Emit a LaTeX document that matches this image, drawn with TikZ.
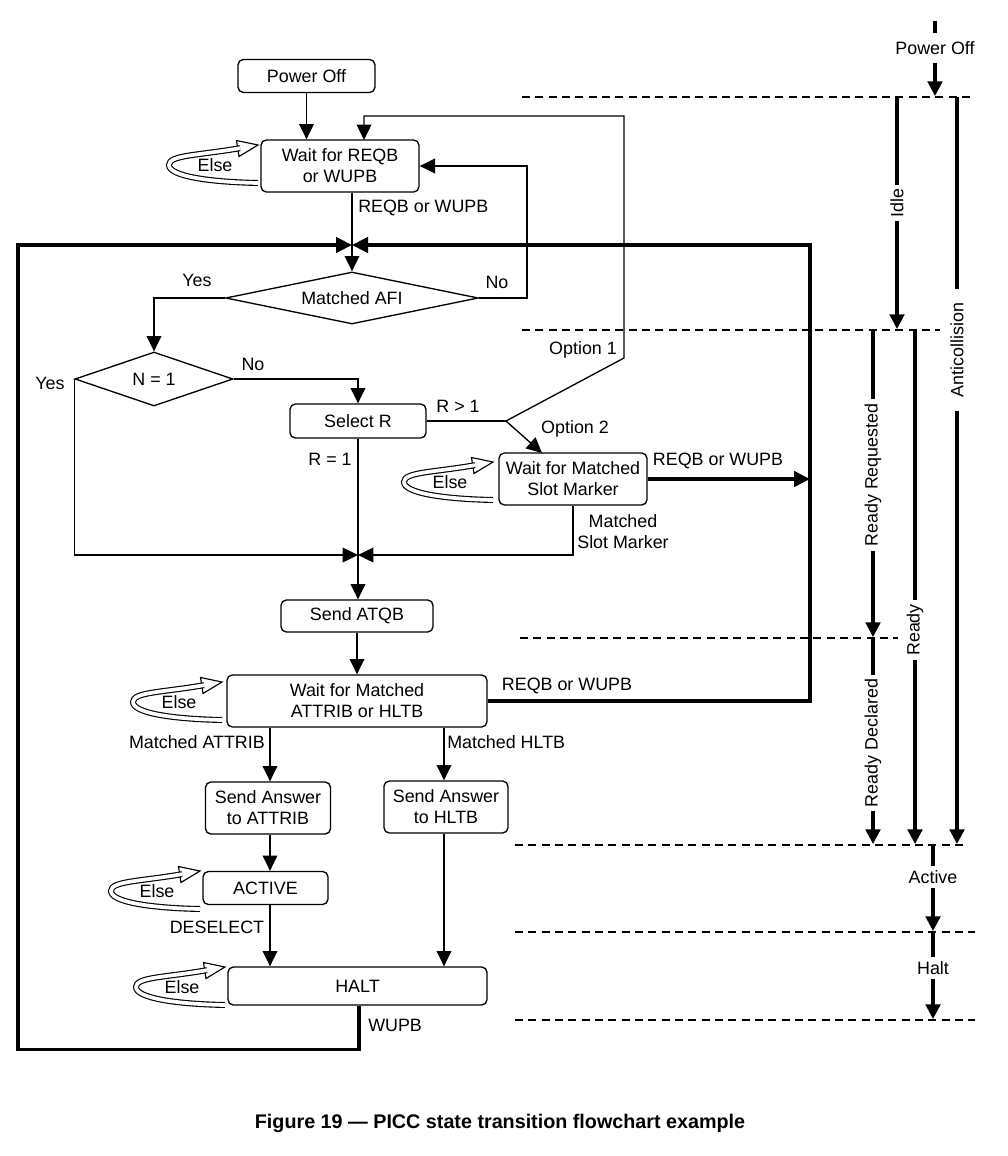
\documentclass[tikz,border=0pt]{standalone}
\usepackage{fontspec}
\setmainfont{Liberation Sans}
\usetikzlibrary{arrows.meta,shapes.geometric}
\tikzset{
  elseloop/.pic={
    \draw[line width=0.85pt, fill=white, line join=miter] (0,0) -- (-19,11.5) -- (-21.5,-4.5) -- cycle;
    \draw[double, double distance=2.8pt, line width=0.85pt] (-18,3.15) .. controls (-60,10.5) and (-89,10) .. (-89,20) .. controls (-89,31) and (-50,37) .. (0,38);
    \node[inner sep=0pt] (-t) at (-43,20) {Else};
  }
}
\begin{document}
\begin{tikzpicture}[x=0.75pt,y=-0.75pt,
  every node/.style={font=\fontsize{13.4}{15.8}\selectfont},
  box/.style={draw, rounded corners=4pt, line width=1pt, align=center, inner sep=0pt},
  dia/.style={draw, diamond, line width=1pt, inner sep=0pt},
  ln/.style={line width=1pt},
  arr/.style={ln, -{Triangle[length=11.5pt,width=11pt]}},
  thk/.style={line width=2.6pt},
  tarr/.style={thk, -{Triangle[length=12pt,width=11.5pt]}},
  rarr/.style={line width=2.3pt, -{Triangle[length=11pt,width=11pt]}},
  rthk/.style={line width=2.3pt},
  dsh/.style={line width=0.8pt, dash pattern=on 6pt off 4pt},
  rlbl/.style={fill=white, inner xsep=3pt, inner ysep=1pt, rotate=90},
  hlbl/.style={fill=white, inner xsep=1pt, inner ysep=3pt},
  lbl/.style={inner sep=0pt, align=center}
]
\useasboundingbox (0,0) rectangle (1007,1156);

% ---------- nodes ----------
\node[box, minimum width=102.75pt, minimum height=24.75pt] (poff) at (306.5,76) {Power Off};
\node[box, minimum width=118.5pt, minimum height=39pt] (wait1) at (340,166) {Wait for REQB\\or WUPB};
\node[dia, minimum width=189.5pt, minimum height=39pt, shape aspect=4.9] (afi) at (352,298) {Matched AFI};
\node[dia, minimum width=118.5pt, minimum height=40.5pt, shape aspect=2.9] (n1) at (154,379) {N = 1};
\node[box, minimum width=102pt, minimum height=25.5pt] (selr) at (358,421) {Select R};
\node[box, minimum width=111pt, minimum height=39pt] (slot) at (573,479) {Wait for Matched\\Slot Marker};
\node[box, minimum width=114pt, minimum height=24pt] (atqb) at (357,616) {Send ATQB};
\node[box, minimum width=195pt, minimum height=39pt] (attr) at (357,701) {Wait for Matched\\ATTRIB or HLTB};
\node[box, minimum width=93.75pt, minimum height=39pt] (sa1) at (268,808) {Send Answer\\to ATTRIB};
\node[box, minimum width=93pt, minimum height=39pt] (sa2) at (446,807) {Send Answer\\to HLTB};
\node[box, minimum width=93.75pt, minimum height=24.75pt] (active) at (265.5,888) {ACTIVE};
\node[box, minimum width=194.25pt, minimum height=28.5pt] (halt) at (357.5,986) {HALT};

% ---------- helper coordinates ----------
\coordinate (tj) at (352,245);
\coordinate (mj) at (358,555);
\coordinate (jr) at (506,421);
\coordinate (o1a) at (624,358);
\coordinate (o1b) at (624,116);
\coordinate (w1in) at (364,140);
\coordinate (o2) at (542,453);
\coordinate (afir) at (527,298);
\coordinate (rv) at (810,245);
\coordinate (lbot) at (18,1049.5);
\coordinate (hb) at (359,1049.5);
\coordinate (xa) at (270,0);
\coordinate (xh) at (444,0);

% ---------- connectors ----------
\draw[arr] (poff.south) -- (poff.south |- wait1.north);
\draw[arr] (jr) -- (o1a) -- (o1b) -| (w1in);
\draw[arr] (wait1.south -| tj) -- (afi.north);
\draw[arr] (afi.east) -- (afir) |- (wait1.east);
\draw[arr] (afi.west) -| (n1.north);
\draw[arr] (n1.east) -| (selr.north);
\draw[arr] (n1.west) |- (mj);
\draw[arr] (selr.south) -- (selr.south |- atqb.north);
\draw[ln] (selr.east) -- (jr);
\draw[arr] (jr) -- (o2);
\draw[arr] (slot.south) |- (mj);
\draw[tarr] (slot.east) -- (slot.east -| rv);
\draw[arr] (atqb.south) -- (atqb.south |- attr.north);
\draw[tarr] (attr.east) -| (rv) -- (tj);
\draw[tarr] (halt.south -| hb) -- (hb) -- (lbot) |- (tj);
\draw[arr] (attr.south -| xa) -- (sa1.north -| xa);
\draw[arr] (attr.south -| xh) -- (sa2.north -| xh);
\draw[arr] (sa1.south -| xa) -- (active.north -| xa);
\draw[arr] (active.south -| xa) -- (halt.north -| xa);
\draw[arr] (sa2.south -| xh) -- (halt.north -| xh);

% ---------- labels ----------
\node[lbl, anchor=west] (l1) at (358,208) {REQB or WUPB};
\node[lbl] (l2) at (197,280) {Yes};
\node[lbl] (l3) at (497,282) {No};
\node[lbl] (l4) at (50,383) {Yes};
\node[lbl] (l5) at (253,364) {No};
\node[lbl] (l6) at (583,350) {Option 1};
\node[lbl] (l7) at (458,406) {R > 1};
\node[lbl] (l8) at (575,429) {Option 2};
\node[lbl] (l9) at (330,459) {R = 1};
\node[lbl] (l10) at (718,461) {REQB or WUPB};
\node[lbl] (l11) at (623,532) {Matched\\Slot Marker};
\node[lbl] (l12) at (567,686) {REQB or WUPB};
\node[lbl, anchor=east] (l13) at (265,742) {Matched ATTRIB};
\node[lbl, anchor=west] (l14) at (447,742) {Matched HLTB};
\node[lbl] (l15) at (217,927) {DESELECT};
\node[lbl, anchor=west] (l16) at (368,1025) {WUPB};

% ---------- else loops ----------
\pic (e1) at (258,145) {elseloop};
\pic (e2) at (493,462) {elseloop};
\pic (e3) at (222,682) {elseloop};
\pic (e4) at (200,871) {elseloop};
\pic (e5) at (225,967) {elseloop};

% ---------- right-hand state columns ----------
\draw[dsh] (522,97) -- (975,97);
\draw[dsh] (522,330) -- (940,330);
\draw[dsh] (520,638) -- (898,638);
\draw[dsh] (515,845) -- (965,845);
\draw[dsh] (515,932) -- (975,932);
\draw[dsh] (515,1020) -- (975,1020);

\draw[rthk] (935,21) -- (935,33);
\draw[rarr] (935,63) -- (935,96);
\node[lbl] (rpoff) at (935,48) {Power Off};

\draw[rarr] (897,97) -- (897,329);
\node[rlbl] (ridle) at (897,203) {Idle};

\draw[rarr] (957,97) -- (957,844);
\node[rlbl, inner xsep=10pt] (ranti) at (957,350) {Anticollision};

\draw[rarr] (873,331) -- (873,637);
\node[rlbl] (rrq) at (873,475) {Ready Requested};

\draw[rarr] (915,331) -- (915,844);
\node[rlbl] (rrdy) at (915,630) {Ready};

\draw[rarr] (873,638) -- (873,844);
\node[rlbl] (rrd) at (873,743) {Ready Declared};

\draw[rarr] (933,846) -- (933,931);
\node[hlbl] (ract) at (933,877) {Active};

\draw[rarr] (933,932) -- (933,1019);
\node[hlbl] (rhalt) at (933,968) {Halt};

% ---------- caption ----------
\node[font=\fontsize{14.8}{17}\selectfont\bfseries] (cap) at (500,1123) {Figure 19 — PICC state transition flowchart example};
\end{tikzpicture}
\end{document}
